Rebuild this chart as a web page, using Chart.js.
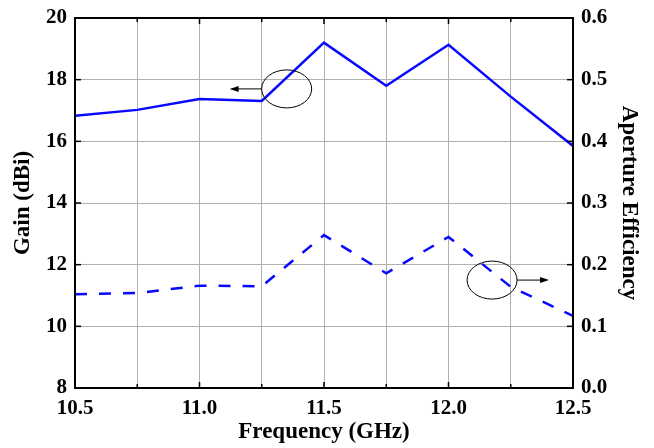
<!DOCTYPE html>
<html>
<head>
<meta charset="utf-8">
<script src="https://cdn.jsdelivr.net/npm/chart.js@4"></script>
<style>
  html, body { margin: 0; padding: 0; background: #fff; }
  #wrap { width: 654px; height: 448px; }
</style>
</head>
<body>
<div id="wrap"><canvas id="chart" width="654" height="448"></canvas></div>
<script>
// frequency points (GHz)
const freq = [10.5, 10.75, 11.0, 11.25, 11.5, 11.75, 12.0, 12.25, 12.5];
// gain (dBi), solid line, left axis
const gain = [16.83, 17.02, 17.37, 17.31, 19.2, 17.8, 19.13, 17.45, 15.85];
// aperture efficiency, dashed line, right axis
const efficiency = [0.152, 0.154, 0.166, 0.165, 0.248, 0.186, 0.245, 0.164, 0.117];

// ellipse markers with arrows (in data units): which axis, centre, arrow direction
const markers = [
  { axis: 'y', x: 11.35, y: 17.7, dir: -1 },
  { axis: 'y2', x: 12.175, y: 0.175, dir: 1 }
];

const blue = '#0808ff';
const tickFont = { family: 'Liberation Serif', weight: 'bold', size: 21 };
const titleFont = { family: 'Liberation Serif', weight: 'bold', size: 23 };

// frame + inward tick marks + ellipse annotations
const framePlugin = {
  id: 'frame',
  afterDraw(chart) {
    const { ctx, chartArea: a, scales } = chart;
    ctx.save();
    ctx.strokeStyle = '#000';
    ctx.lineWidth = 1.5;
    // ticks on the x axis (bottom and top)
    scales.x.ticks.forEach(t => {
      const px = scales.x.getPixelForValue(t.value);
      const major = Math.abs(t.value * 2 - Math.round(t.value * 2)) < 1e-6;
      const len = major ? 6 : 4;
      ctx.beginPath();
      ctx.moveTo(px, a.bottom); ctx.lineTo(px, a.bottom - len);
      ctx.moveTo(px, a.top); ctx.lineTo(px, a.top + len);
      ctx.stroke();
    });
    scales.y.ticks.forEach(t => {
      const py = scales.y.getPixelForValue(t.value);
      ctx.beginPath();
      ctx.moveTo(a.left, py); ctx.lineTo(a.left + 6, py);
      ctx.stroke();
    });
    scales.y2.ticks.forEach(t => {
      const py = scales.y2.getPixelForValue(t.value);
      ctx.beginPath();
      ctx.moveTo(a.right, py); ctx.lineTo(a.right - 6, py);
      ctx.stroke();
    });
    ctx.lineWidth = 2;
    ctx.strokeRect(a.left, a.top, a.right - a.left, a.bottom - a.top);

    // ellipses and arrows
    ctx.lineWidth = 1;
    markers.forEach(m => {
      const cx = scales.x.getPixelForValue(m.x);
      const cy = scales[m.axis].getPixelForValue(m.y);
      const rx = 25, ry = 19;
      ctx.beginPath();
      ctx.ellipse(cx, cy, rx, ry, 0, 0, Math.PI * 2);
      ctx.stroke();
      const x0 = cx + m.dir * rx;
      const x1 = x0 + m.dir * 32;
      ctx.beginPath();
      ctx.moveTo(x0, cy); ctx.lineTo(x1 - m.dir * 6, cy);
      ctx.stroke();
      ctx.beginPath();
      ctx.moveTo(x1, cy);
      ctx.lineTo(x1 - m.dir * 9, cy - 3);
      ctx.lineTo(x1 - m.dir * 9, cy + 3);
      ctx.closePath();
      ctx.fillStyle = '#000';
      ctx.fill();
    });
    ctx.restore();
  }
};

// fixed axis boxes so the plot area sits where the original's does
const fitY = w => s => { s.width = w; s.paddingTop = 0; s.paddingBottom = 0; };

new Chart(document.getElementById('chart'), {
  type: 'line',
  data: {
    datasets: [
      {
        label: 'Gain',
        data: freq.map((f, i) => ({ x: f, y: gain[i] })),
        yAxisID: 'y',
        borderColor: blue,
        borderWidth: 2.5,
        pointRadius: 0,
        tension: 0
      },
      {
        label: 'Aperture Efficiency',
        data: freq.map((f, i) => ({ x: f, y: efficiency[i] })),
        yAxisID: 'y2',
        borderColor: blue,
        borderWidth: 2.5,
        borderDash: [12, 12],
        pointRadius: 0,
        tension: 0
      }
    ]
  },
  options: {
    responsive: false,
    animation: false,
    layout: { padding: { top: 18, left: 0, right: 0, bottom: 0 } },
    plugins: { legend: { display: false }, tooltip: { enabled: false } },
    scales: {
      x: {
        type: 'linear',
        min: 10.5,
        max: 12.5,
        afterFit(s) { s.height = 60; s.paddingLeft = 0; s.paddingRight = 0; },
        ticks: {
          stepSize: 0.25,
          color: '#000',
          font: tickFont,
          padding: 8,
          maxRotation: 0,
          autoSkip: false,
          callback: v => (Math.abs(v * 2 - Math.round(v * 2)) < 1e-6 ? v.toFixed(1) : '')
        },
        grid: { color: '#b0b0b0', lineWidth: 1, drawTicks: false },
        border: { display: false },
        title: { display: true, text: 'Frequency (GHz)', color: '#000', font: titleFont, padding: { top: 0, bottom: 2 } }
      },
      y: {
        position: 'left',
        min: 8,
        max: 20,
        afterFit: fitY(75),
        ticks: {
          stepSize: 2,
          color: '#000',
          font: tickFont,
          padding: 8
        },
        grid: { color: '#b0b0b0', lineWidth: 1, drawTicks: false },
        border: { display: false },
        title: { display: true, text: 'Gain (dBi)', color: '#000', font: titleFont, padding: { top: 9, bottom: 0 } }
      },
      y2: {
        position: 'right',
        min: 0,
        max: 0.6,
        afterFit: fitY(81),
        ticks: {
          stepSize: 0.1,
          color: '#000',
          font: tickFont,
          padding: 8,
          callback: v => v.toFixed(1)
        },
        grid: { display: false, drawTicks: false },
        border: { display: false },
        title: { display: true, text: 'Aperture Efficiency', color: '#000', font: titleFont, padding: { top: 11, bottom: 0 } }
      }
    }
  },
  plugins: [framePlugin]
});
</script>
</body>
</html>
